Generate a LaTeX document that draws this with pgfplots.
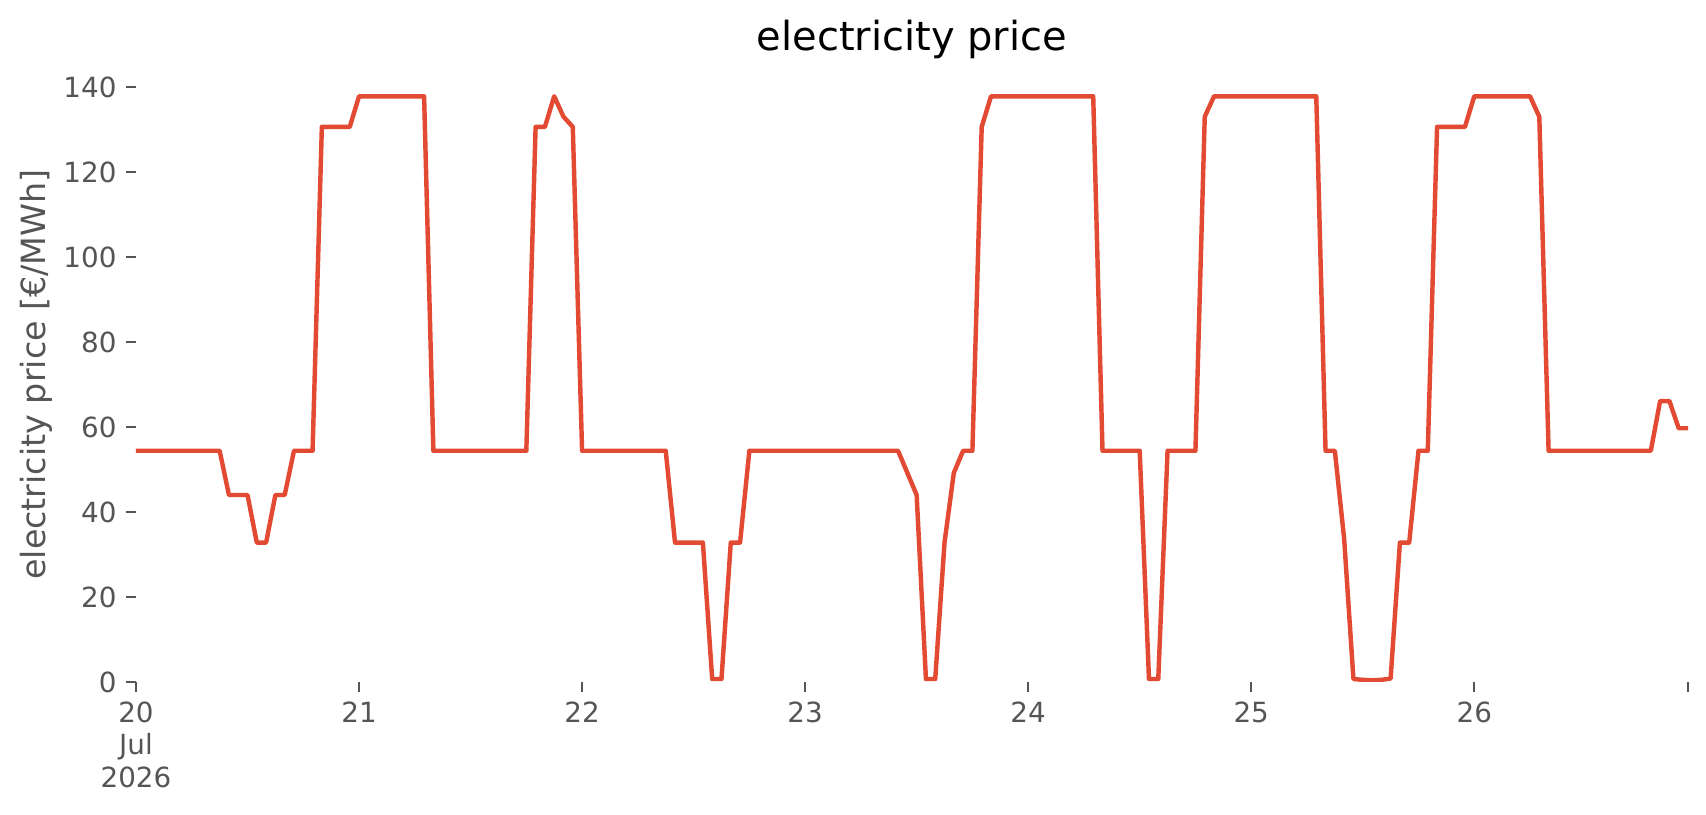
\documentclass[border=0pt]{standalone}
\usepackage{fontspec}
\setmainfont{DejaVu Sans}
\usepackage{pgfplots}
\usepackage{pgfplotstable}
\pgfplotsset{compat=1.18}
\definecolor{lineRed}{HTML}{E24A33}
\definecolor{tickGray}{HTML}{555555}
\pgfplotstableread{
h v
0 54.4
1 54.4
2 54.4
3 54.4
4 54.4
5 54.4
6 54.4
7 54.4
8 54.4
9 54.4
10 44.0
11 44.0
12 44.0
13 32.8
14 32.8
15 44.0
16 44.0
17 54.4
18 54.4
19 54.4
20 130.6
21 130.6
22 130.6
23 130.6
24 137.8
25 137.8
26 137.8
27 137.8
28 137.8
29 137.8
30 137.8
31 137.8
32 54.4
33 54.4
34 54.4
35 54.4
36 54.4
37 54.4
38 54.4
39 54.4
40 54.4
41 54.4
42 54.4
43 130.6
44 130.6
45 137.8
46 133.0
47 130.6
48 54.4
49 54.4
50 54.4
51 54.4
52 54.4
53 54.4
54 54.4
55 54.4
56 54.4
57 54.4
58 32.8
59 32.8
60 32.8
61 32.8
62 0.7
63 0.7
64 32.8
65 32.8
66 54.4
67 54.4
68 54.4
69 54.4
70 54.4
71 54.4
72 54.4
73 54.4
74 54.4
75 54.4
76 54.4
77 54.4
78 54.4
79 54.4
80 54.4
81 54.4
82 54.4
83 49.2
84 44.0
85 0.7
86 0.7
87 32.8
88 49.2
89 54.4
90 54.4
91 130.6
92 137.8
93 137.8
94 137.8
95 137.8
96 137.8
97 137.8
98 137.8
99 137.8
100 137.8
101 137.8
102 137.8
103 137.8
104 54.4
105 54.4
106 54.4
107 54.4
108 54.4
109 0.7
110 0.7
111 54.4
112 54.4
113 54.4
114 54.4
115 133.0
116 137.8
117 137.8
118 137.8
119 137.8
120 137.8
121 137.8
122 137.8
123 137.8
124 137.8
125 137.8
126 137.8
127 137.8
128 54.4
129 54.4
130 33.7
131 0.7
132 0.5
133 0.4
134 0.5
135 0.8
136 32.8
137 32.8
138 54.4
139 54.4
140 130.6
141 130.6
142 130.6
143 130.6
144 137.8
145 137.8
146 137.8
147 137.8
148 137.8
149 137.8
150 137.8
151 133.0
152 54.4
153 54.4
154 54.4
155 54.4
156 54.4
157 54.4
158 54.4
159 54.4
160 54.4
161 54.4
162 54.4
163 54.4
164 66.1
165 66.1
166 59.7
167 59.7
}\pricetable

\begin{document}
\begin{tikzpicture}
\path[use as bounding box] (0,0) rectangle (614.16pt,293.4pt);
\begin{axis}[
  at={(48.96pt,47.88pt)}, anchor=south west,
  scale only axis, width=558.72pt, height=221.4pt,
  xmin=0, xmax=167, ymin=0, ymax=144.7,
  axis line style={draw=none},
  axis x line*=bottom, axis y line*=left,
  tick align=outside,
  major tick length=3.5pt,
  tick style={draw=tickGray, line width=0.8pt},
  xtick={0,24,48,72,96,120,144},
  xticklabels={{20\\Jul\\2026},21,22,23,24,25,26},
  extra x ticks={167}, extra x tick labels={},
  ytick={0,20,40,60,80,100,120,140},
  /pgf/number format/assume math mode=true,
  ticklabel style={font=\fontsize{10}{11.7}\selectfont, text=tickGray},
  xticklabel style={align=center},
  title={electricity price},
  title style={font=\fontsize{14.4}{17}\selectfont, at={(axis description cs:0.5,1)}, anchor=base, yshift=0pt},
  ylabel={electricity price [€/MWh]},
  ylabel style={font=\fontsize{12}{14}\selectfont, text=tickGray, at={(axis description cs:-0.0640,0.5)}, anchor=center},
]
\addplot[lineRed, line width=1.6pt, mark=none, line join=round] table[x=h,y=v]{\pricetable};
\end{axis}
\end{tikzpicture}
\end{document}
